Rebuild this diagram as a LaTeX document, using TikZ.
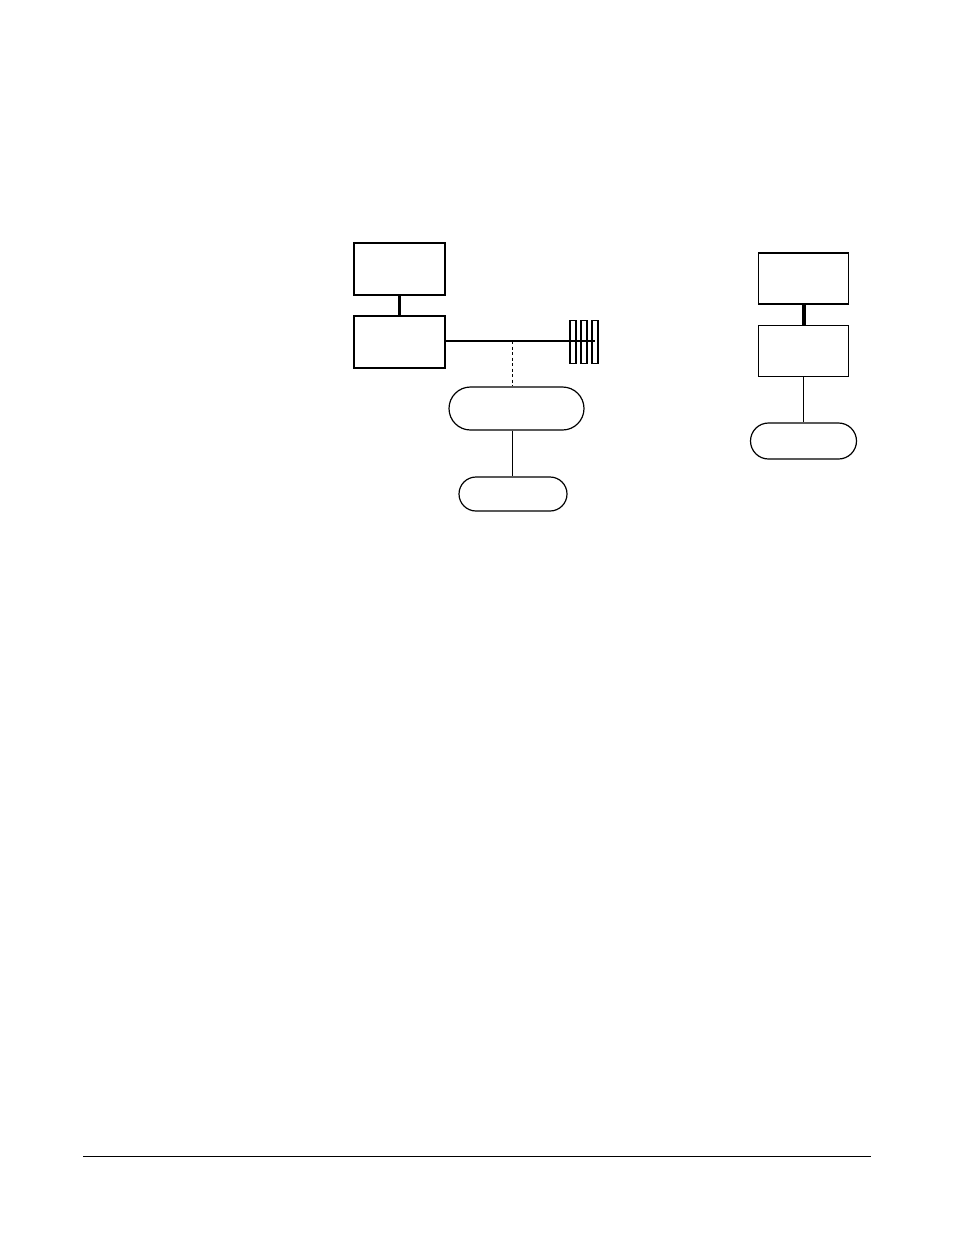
\documentclass[tikz,border=0pt]{standalone}
\usetikzlibrary{shapes.misc}
\begin{document}
\begin{tikzpicture}[x=1pt,y=-1pt,
  boxnode/.style={draw,line width=1.9pt,minimum width=#1,inner sep=0pt},
  pill/.style={draw,rounded rectangle,line width=1.2pt,inner sep=0pt},
  bar/.style={draw,line width=1.4pt,inner sep=0pt,minimum width=6pt,minimum height=43pt},
  thickcon/.style={line width=3.5pt},
  medcon/.style={line width=1.9pt},
  thincon/.style={line width=1.1pt},
  dashcon/.style={line width=0.9pt,dash pattern=on 3pt off 2.5pt}]
\useasboundingbox (0,0) rectangle (954,1235);
% left group
\node[boxnode=91pt,minimum height=52pt] (a1) at (399.5,269) {};
\node[boxnode=91pt,minimum height=52pt] (a2) at (399.5,342) {};
\node[bar] (b1) at (573,342) {};
\node[bar] (b2) at (584,342) {};
\node[bar] (b3) at (595,342) {};
\coordinate (j) at (512.5,341);
\node[pill,minimum width=135pt,minimum height=43pt] (p1) at (516.5,408.5) {};
\node[pill,minimum width=108pt,minimum height=34pt] (p2) at (513,494) {};
\draw[thickcon] (a1.south) -- (a2.north);
\draw[medcon] (a2.east |- j) -- (b3.center |- j);
\draw[dashcon] (j) -- (j |- p1.north);
\draw[thincon] (j |- p1.south) -- (j |- p2.north);
% right group
\node[boxnode=90pt,minimum height=51pt] (c1) at (803.5,278.5) {};
\node[boxnode=90pt,minimum height=51pt] (c2) at (803.5,351) {};
\node[pill,minimum width=106pt,minimum height=36pt] (p3) at (803.5,441) {};
\draw[line width=4pt] (c1.south) -- (c2.north);
\draw[medcon] (c2.south) -- (p3.north);
% footer rule
\coordinate (r1) at (83,1156.7);
\coordinate (r2) at (871,1156.7);
\draw[line width=1.3pt] (r1) -- (r2);
\end{tikzpicture}
\end{document}
